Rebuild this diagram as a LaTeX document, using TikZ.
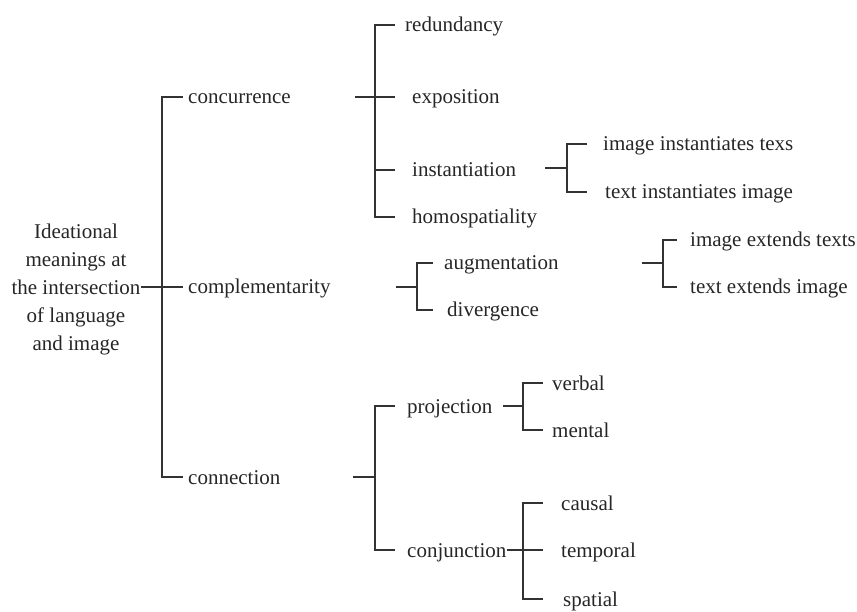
\documentclass[tikz,border=0pt]{standalone}
\usepackage{fontspec}
\setmainfont{Liberation Serif}
\begin{document}
\begin{tikzpicture}[x=1pt,y=-1pt,
  lbl/.style={anchor=base west,inner sep=0pt,yshift=-2pt,font=\fontsize{21}{28}\selectfont,text=black!85},
  rootlbl/.style={anchor=center,inner sep=0pt,align=center,font=\fontsize{21}{28}\selectfont,text=black!85},
  conn/.style={draw=black!80,line width=1.3pt,line cap=butt,line join=miter}]
\useasboundingbox (0,0) rectangle (857,612);
% nodes
\node[rootlbl] (root) at (76,289) {Ideational\\meanings at\\the intersection\\of language\\and image};
\node[lbl] (concurrence) at (188,102) {concurrence};
\node[lbl] (complementarity) at (188,292) {complementarity};
\node[lbl] (connection) at (188,482) {connection};
\node[lbl] (redundancy) at (405,30) {redundancy};
\node[lbl] (exposition) at (412,102) {exposition};
\node[lbl] (instantiation) at (412,175) {instantiation};
\node[lbl] (homospatiality) at (412,222) {homospatiality};
\node[lbl] (imginst) at (603,149) {image instantiates texs};
\node[lbl] (textinst) at (605,197) {text instantiates image};
\node[lbl] (augmentation) at (444,268) {augmentation};
\node[lbl] (divergence) at (447,315) {divergence};
\node[lbl] (imgext) at (690,245) {image extends texts};
\node[lbl] (textext) at (690,292) {text extends image};
\node[lbl] (projection) at (407,411) {projection};
\node[lbl] (conjunction) at (407,555) {conjunction};
\node[lbl] (verbal) at (552,388) {verbal};
\node[lbl] (mental) at (552,435) {mental};
\node[lbl] (causal) at (561,508) {causal};
\node[lbl] (temporal) at (561,555) {temporal};
\node[lbl] (spatial) at (563,604) {spatial};
% coordinates for the brackets
\coordinate (r-e) at (183,287);
\coordinate (r-t) at (183,97);
\coordinate (r-b) at (183,477);
\coordinate (c-in) at (355,97);
\coordinate (c-e) at (395,97);
\coordinate (c-t) at (395,25);
\coordinate (c-m) at (395,170);
\coordinate (c-b) at (395,217);
\coordinate (i-in) at (545,168);
\coordinate (i-t) at (587,144);
\coordinate (i-b) at (587,192);
\coordinate (m-in) at (396,287);
\coordinate (m-t) at (433,263);
\coordinate (m-b) at (433,310);
\coordinate (a-in) at (642,263);
\coordinate (a-t) at (677,240);
\coordinate (a-b) at (677,287);
\coordinate (n-in) at (353,477);
\coordinate (n-t) at (395,406);
\coordinate (n-b) at (395,550);
\coordinate (p-in) at (503,406);
\coordinate (p-t) at (543,383);
\coordinate (p-b) at (543,430);
\coordinate (j-e) at (543,550);
\coordinate (j-t) at (543,503);
\coordinate (j-b) at (543,599);
% root
\draw[conn] (root.east |- r-e) -- (r-e);
\draw[conn] (r-t) -- (162,97) -- (162,477) -- (r-b);
% concurrence
\draw[conn] (c-in) -- (c-e);
\draw[conn] (c-t) -- (375,25) -- (375,217) -- (c-b);
\draw[conn] (375,170) -- (c-m);
% instantiation
\draw[conn] (i-in) -- (567,168);
\draw[conn] (i-t) -- (567,144) -- (567,192) -- (i-b);
% complementarity
\draw[conn] (m-in) -- (417,287);
\draw[conn] (m-t) -- (417,263) -- (417,310) -- (m-b);
% augmentation
\draw[conn] (a-in) -- (663,263);
\draw[conn] (a-t) -- (663,240) -- (663,287) -- (a-b);
% connection
\draw[conn] (n-in) -- (375,477);
\draw[conn] (n-t) -- (375,406) -- (375,550) -- (n-b);
% projection
\draw[conn] (p-in) -- (523,406);
\draw[conn] (p-t) -- (523,383) -- (523,430) -- (p-b);
% conjunction
\draw[conn] (conjunction.east |- j-e) -- (j-e);
\draw[conn] (j-t) -- (523,503) -- (523,599) -- (j-b);
\end{tikzpicture}
\end{document}
